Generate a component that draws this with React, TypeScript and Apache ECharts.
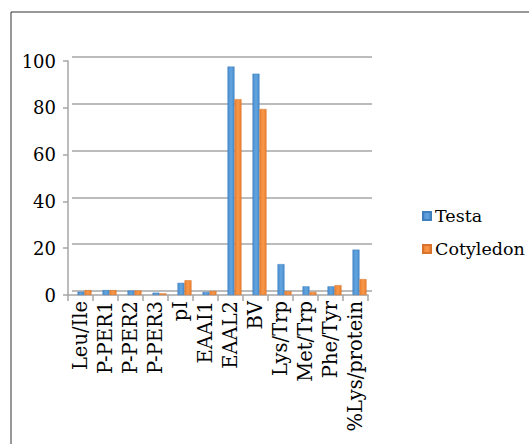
import React, { useEffect, useRef } from "react";
import * as echarts from "echarts";

const categories = ["Leu/Ile", "P-PER1", "P-PER2", "P-PER3", "pI", "EAAI1", "EAAL2", "BV", "Lys/Trp", "Met/Trp", "Phe/Tyr", "%Lys/protein"];
const testa = [1.4, 2.1, 1.9, 1.0, 5.2, 1.3, 97.6, 94.6, 13.2, 3.7, 3.7, 19.4];
const cotyledon = [2.1, 2.1, 1.9, 0.7, 6.3, 1.7, 83.7, 79.5, 1.6, 1.3, 4.2, 6.8];
const yTicks = [0, 20, 40, 60, 80, 100];

const FONT = "DejaVu Serif";
const LINE = "#a6a6a6";

export default function App() {
  const ref = useRef<HTMLDivElement>(null);
  useEffect(() => {
    const chart = echarts.init(ref.current!, undefined, { renderer: "svg" });
    const hiddenY = (gi: number) => ({
      type: "value",
      gridIndex: gi,
      min: 0,
      max: 100,
      interval: 20,
      axisLine: { show: false },
      axisTick: { show: false },
      axisLabel: { show: false },
      splitLine: { show: false },
    });
    chart.setOption({
      animation: false,
      backgroundColor: "#ffffff",
      textStyle: { fontFamily: FONT },
      legend: {
        orient: "vertical",
        left: 417,
        top: 202,
        itemWidth: 8,
        itemHeight: 8,
        itemGap: 15,
        icon: "rect",
        textStyle: { fontFamily: FONT, fontSize: 17.5, color: "#000", padding: [0, 0, 0, -1] },
        data: ["Testa", "Cotyledon"],
      },
      graphic: [
        {
          type: "rect",
          shape: { x: 11, y: 12, width: 600, height: 500 },
          style: { fill: "none", stroke: "#333", lineWidth: 1 },
          silent: true,
        },
      ],
      grid: [
        { left: 68, right: 161, top: 61, bottom: 149 },
        { left: 72, right: 157, top: 57, bottom: 153 },
        { left: 72, right: 157, top: 61, bottom: 149 },
      ],
      xAxis: [
        {
          type: "category",
          gridIndex: 0,
          data: categories,
          axisLine: { lineStyle: { color: LINE, width: 1.5 } },
          axisTick: { show: true, length: 6, lineStyle: { color: LINE, width: 1.5 } },
          axisLabel: { rotate: 90, fontFamily: FONT, fontSize: 19.5, color: "#000", margin: 6, interval: 0 },
        },
        { type: "category", gridIndex: 1, data: categories, show: false },
        { type: "category", gridIndex: 2, data: categories, show: false },
      ],
      yAxis: [
        {
          type: "value",
          gridIndex: 0,
          min: 0,
          max: 100,
          interval: 20,
          axisLine: { show: true, lineStyle: { color: LINE, width: 1.5 } },
          axisTick: { show: true, length: 5, lineStyle: { color: LINE, width: 1.5 } },
          splitLine: { show: false },
          axisLabel: {
            fontFamily: FONT,
            fontSize: 18,
            color: "#000",
            margin: 12,
            formatter: (v: number) => (yTicks.includes(v) ? String(v) : ""),
          },
        },
        {
          ...hiddenY(1),
          splitLine: { show: true, lineStyle: { color: LINE, width: 1.5 } },
        },
        hiddenY(2),
      ],
      series: [
        {
          name: "Testa",
          type: "bar",
          xAxisIndex: 2,
          yAxisIndex: 2,
          data: testa,
          barWidth: 7,
          barGap: "0%",
          itemStyle: {
            color: new echarts.graphic.LinearGradient(0, 0, 1, 0, [
              { offset: 0, color: "#4a8ccc" },
              { offset: 0.5, color: "#62a6e0" },
              { offset: 1, color: "#4a8ccc" },
            ]),
            borderColor: "#3f7fbf",
            borderWidth: 0.5,
          },
        },
        {
          name: "Cotyledon",
          type: "bar",
          xAxisIndex: 2,
          yAxisIndex: 2,
          data: cotyledon,
          barWidth: 7,
          barGap: "0%",
          itemStyle: {
            color: new echarts.graphic.LinearGradient(0, 0, 1, 0, [
              { offset: 0, color: "#e9802f" },
              { offset: 0.5, color: "#f8984a" },
              { offset: 1, color: "#e9802f" },
            ]),
            borderColor: "#d9722a",
            borderWidth: 0.5,
          },
        },
      ],
    });
    return () => chart.dispose();
  }, []);
  return (
    <div
      ref={ref}
      style={{ position: "fixed", left: 0, top: 0, width: 529, height: 444 }}
    />
  );
}
